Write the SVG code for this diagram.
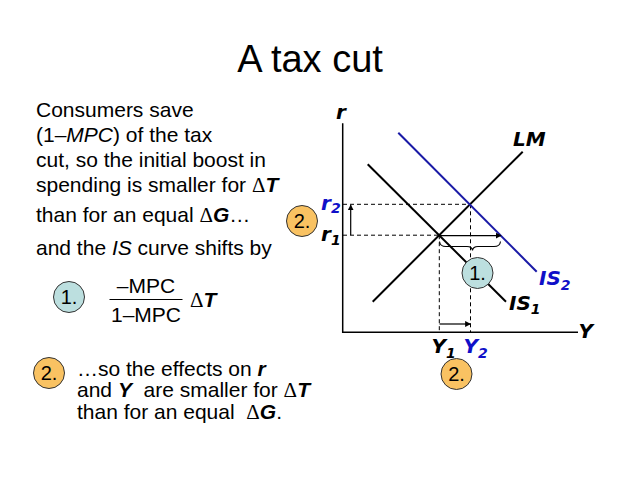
<svg xmlns="http://www.w3.org/2000/svg" width="638" height="479" viewBox="0 0 638 479">
<defs>
<style>
.t{font-family:"Liberation Sans",Arial,sans-serif;font-size:21px;fill:#000}
.i{font-style:italic}
.bi{font-style:italic;font-weight:bold}
.d{font-family:"Liberation Serif","Times New Roman",serif;font-style:normal;font-weight:normal}
.g{font-family:"DejaVu Sans",Verdana,sans-serif;font-size:20px;font-weight:bold;font-style:oblique;fill:#000}
.blue{fill:#1010C8}
.sub{font-size:14px}
.ax{stroke:#000;stroke-width:1.5;fill:none}
.crv{stroke:#000;stroke-width:2;fill:none}
.dash{stroke:#000;stroke-width:1;stroke-dasharray:4 3;fill:none}
.arr{stroke:#000;stroke-width:1.2;fill:none;marker-end:url(#ah)}
.co{fill:#F9C262;stroke:#333;stroke-width:1}
.cb{fill:#BCDFDF;stroke:#333;stroke-width:1}
.cl{font-family:"Liberation Sans",Arial,sans-serif;font-size:20px;fill:#000;text-anchor:middle}
</style>
<marker id="ah" viewBox="0 0 10 10" refX="9" refY="5" markerWidth="6" markerHeight="6" markerUnits="userSpaceOnUse" orient="auto">
<path d="M0,0 L10,5 L0,10 z" fill="#000"/>
</marker>
</defs>
<rect width="638" height="479" fill="#fff"/>

<text x="310" y="72" font-family="'Liberation Sans',Arial,sans-serif" font-size="38" text-anchor="middle">A tax cut</text>

<g id="left-text">
<text class="t" x="36" y="117">Consumers save</text>
<text class="t" x="36" y="141.5">(1–<tspan class="i">MPC</tspan>) of the tax</text>
<text class="t" x="36" y="166.5">cut, so the initial boost in</text>
<text class="t" x="36" y="191.5">spending is smaller for <tspan class="d">Δ</tspan><tspan class="bi">T</tspan></text>
<text class="t" x="36" y="221.5">than for an equal <tspan class="d">Δ</tspan><tspan class="bi">G</tspan>…</text>
<text class="t" x="36" y="255">and the <tspan class="i">IS</tspan> curve shifts by</text>
</g>

<g id="formula">
<text class="t" x="146" y="292.5" text-anchor="middle">–MPC</text>
<line x1="109.5" y1="299.5" x2="182.5" y2="299.5" stroke="#000" stroke-width="1"/>
<text class="t" x="146" y="321.5" text-anchor="middle">1–MPC</text>
<text class="t" x="190" y="306.5"><tspan class="d">Δ</tspan><tspan class="bi">T</tspan></text>
</g>

<g id="bottom-text">
<text class="t" x="77" y="376">…so the effects on <tspan class="bi">r</tspan></text>
<text class="t" x="77" y="397" xml:space="preserve">and <tspan class="bi">Y</tspan>  are smaller for <tspan class="d">Δ</tspan><tspan class="bi">T</tspan></text>
<text class="t" x="77" y="418.5" xml:space="preserve">than for an equal  <tspan class="d">Δ</tspan><tspan class="bi">G</tspan>.</text>
</g>

<g id="badge-1-left"><circle class="cb" cx="69" cy="297" r="15.5"/><text class="cl" x="69" y="304">1.</text></g>
<g id="badge-2-bottom-left"><circle class="co" cx="49" cy="373" r="15.5"/><text class="cl" x="49" y="380">2.</text></g>
<g id="badge-2-r"><circle class="co" cx="302" cy="221" r="15.5"/><text class="cl" x="302" y="228">2.</text></g>
<g id="badge-2-y"><circle class="co" cx="456.5" cy="374" r="15.5"/><text class="cl" x="456.5" y="381">2.</text></g>

<g id="connectors">
<polyline class="ax" points="342.7,123.3 342.7,332.3 578,332.3"/>
<line class="dash" x1="343" y1="204.3" x2="470.5" y2="204.3"/>
<line class="dash" x1="343" y1="235.2" x2="439.3" y2="235.2"/>
<line class="dash" x1="439.3" y1="235.2" x2="439.3" y2="332"/>
<line class="dash" x1="470.5" y1="204.3" x2="470.5" y2="332"/>
<line class="crv" x1="372.7" y1="301.7" x2="522.7" y2="151.7"/>
<line class="crv" x1="367.7" y1="164.3" x2="506" y2="301.7"/>
<line class="crv" x1="398.3" y1="132.7" x2="536.7" y2="271.7" style="stroke:#1A1AA6"/>
<line class="arr" x1="350.7" y1="235" x2="350.7" y2="205"/>
<line class="arr" x1="439.5" y1="235.6" x2="501" y2="235.6"/>
<line class="arr" x1="439.5" y1="324" x2="470.5" y2="324"/>
<path d="M439.5,241.5 Q440,246.5 446,246.5 L467,246.5 Q472,246.5 472.5,250.5 Q473,246.5 478,246.5 L494,246.5 Q500,246.5 500.5,241.5" fill="none" stroke="#000" stroke-width="1.1"/>
</g>

<g id="badge-1-graph"><circle class="cb" cx="477.5" cy="273" r="15.5"/><text class="cl" x="477.5" y="280">1.</text></g>

<g id="graph-labels">
<text class="g" x="336" y="119">r</text>
<text class="g" x="513" y="145.5">LM</text>
<text class="g blue" x="539" y="285">IS<tspan class="sub" dy="5">2</tspan></text>
<text class="g" x="509" y="310">IS<tspan class="sub" dy="4">1</tspan></text>
<text class="g" x="578.5" y="338">Y</text>
<text class="g" x="431.5" y="353">Y<tspan class="sub" dy="5">1</tspan></text>
<text class="g blue" x="463.5" y="353">Y<tspan class="sub" dy="5">2</tspan></text>
<text class="g blue" x="321" y="210">r<tspan class="sub" dy="3">2</tspan></text>
<text class="g" x="321" y="241">r<tspan class="sub" dy="4">1</tspan></text>
</g>
</svg>
